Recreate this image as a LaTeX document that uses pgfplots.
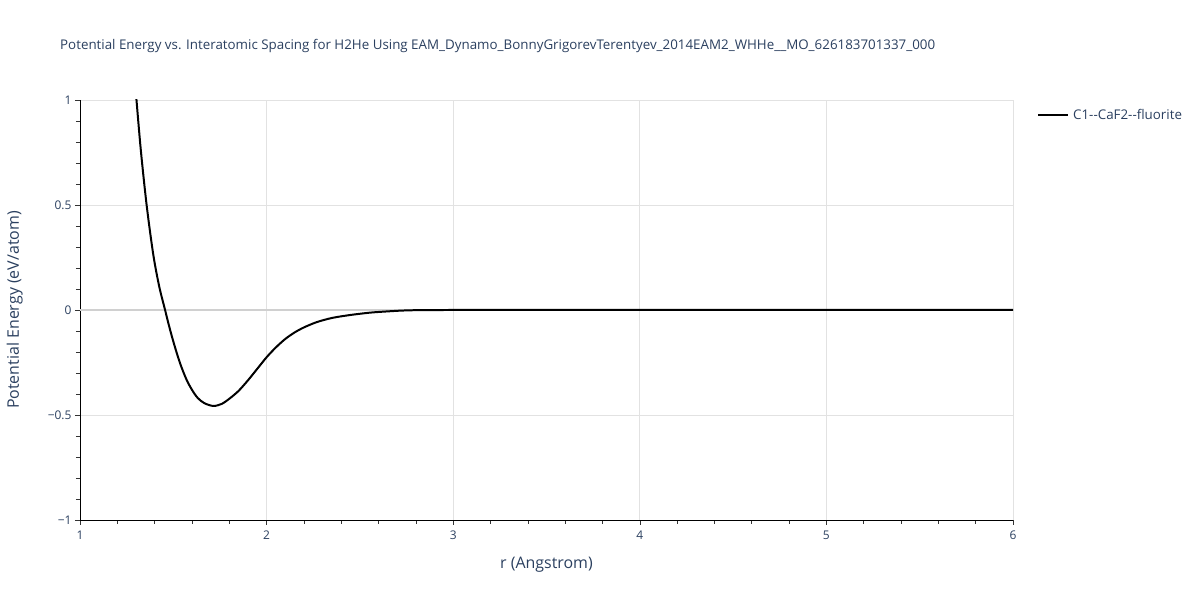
\documentclass[border=0pt]{standalone}
\usepackage{pgfplots}
\pgfplotsset{compat=1.18}
\usepackage{fontspec}
\setmainfont{Open Sans}
\definecolor{txt}{HTML}{2A3F5F}
\definecolor{gridc}{HTML}{E2E2E2}
\definecolor{zeroc}{HTML}{D0D0D0}
\begin{document}
\begin{tikzpicture}[x=1bp,y=1bp]
\path[use as bounding box] (0,0) rectangle (1200,600);
\node[anchor=base west, text=txt, font=\fontsize{13.4}{16}\selectfont, inner sep=0] at (60,550) {Potential Energy vs. Interatomic Spacing for H2He Using EAM\_Dynamo\_BonnyGrigorevTerentyev\_2014EAM2\_WHHe\_\_MO\_626183701337\_000};
\begin{axis}[
  at={(80bp,80bp)}, anchor=south west,
  scale only axis, width=933bp, height=420bp,
  xmin=1, xmax=6, ymin=-1, ymax=1,
  axis x line*=bottom, axis y line*=left,
  axis line style={black, line width=0.8pt},
  xtick={1,2,3,4,5,6},
  minor xtick={1.2,1.4,...,5.8},
  ytick={-1,-0.5,0,0.5,1},
  yticklabels={−1,−0.5,0,0.5,1},
  minor ytick={-0.9,-0.8,-0.7,-0.6,-0.4,-0.3,-0.2,-0.1,0.1,0.2,0.3,0.4,0.6,0.7,0.8,0.9},
  tick align=outside,
  major tick length=5bp, minor tick length=4bp,
  tick style={black!80, line width=0.6pt},
  grid=major,
  major grid style={gridc, line width=0.8pt},
  extra y ticks={0}, extra y tick labels={},
  extra y tick style={grid=major, major grid style={zeroc, line width=1.5pt}, major tick length=0pt},
  ticklabel style={text=txt, font=\fontsize{12}{14}\selectfont},
  /pgf/number format/assume math mode=true,
  xlabel={r (Angstrom)}, ylabel={Potential Energy (eV/atom)},
  label style={text=txt, font=\fontsize{16}{19}\selectfont},
  xlabel style={at={(axis description cs:0.5,0)}, anchor=base, yshift=-49bp},
  ylabel style={at={(axis description cs:0,0.5)}, anchor=base, yshift=61bp},
  xticklabel style={yshift=-2bp},
  legend style={at={(1.0257,0.964)}, anchor=west, draw=none, fill=none,
    font=\fontsize{13.4}{16}\selectfont, text=txt, inner sep=0pt,
    nodes={inner sep=0pt}},
  legend cell align=left,
  legend image code/.code={\draw[black, line width=2pt] (0bp,0bp) -- (30bp,0bp);},
  clip=true,
]
\addplot[black, line width=2pt, smooth, tension=0.5] coordinates {
(1.300,1.03) (1.325,0.77) (1.357,0.50) (1.393,0.262) (1.425,0.11) (1.456,0.0)
(1.480,-0.085) (1.505,-0.165) (1.536,-0.253) (1.570,-0.33) (1.600,-0.38)
(1.630,-0.418) (1.665,-0.443) (1.714,-0.457) (1.760,-0.447) (1.804,-0.42)
(1.850,-0.385) (1.900,-0.335) (1.950,-0.28) (2.000,-0.225) (2.050,-0.178)
(2.100,-0.138) (2.150,-0.107) (2.200,-0.083) (2.268,-0.058) (2.350,-0.038) (2.447,-0.024)
(2.550,-0.013) (2.625,-0.008) (2.720,-0.003) (2.800,-0.001) (3.000,0.0)
(4.000,0.0) (5.000,0.0) (6.000,0.0)
};
\addlegendentry{\hspace{4bp}C1{-}{-}CaF2{-}{-}fluorite}
\end{axis}
\end{tikzpicture}
\end{document}
